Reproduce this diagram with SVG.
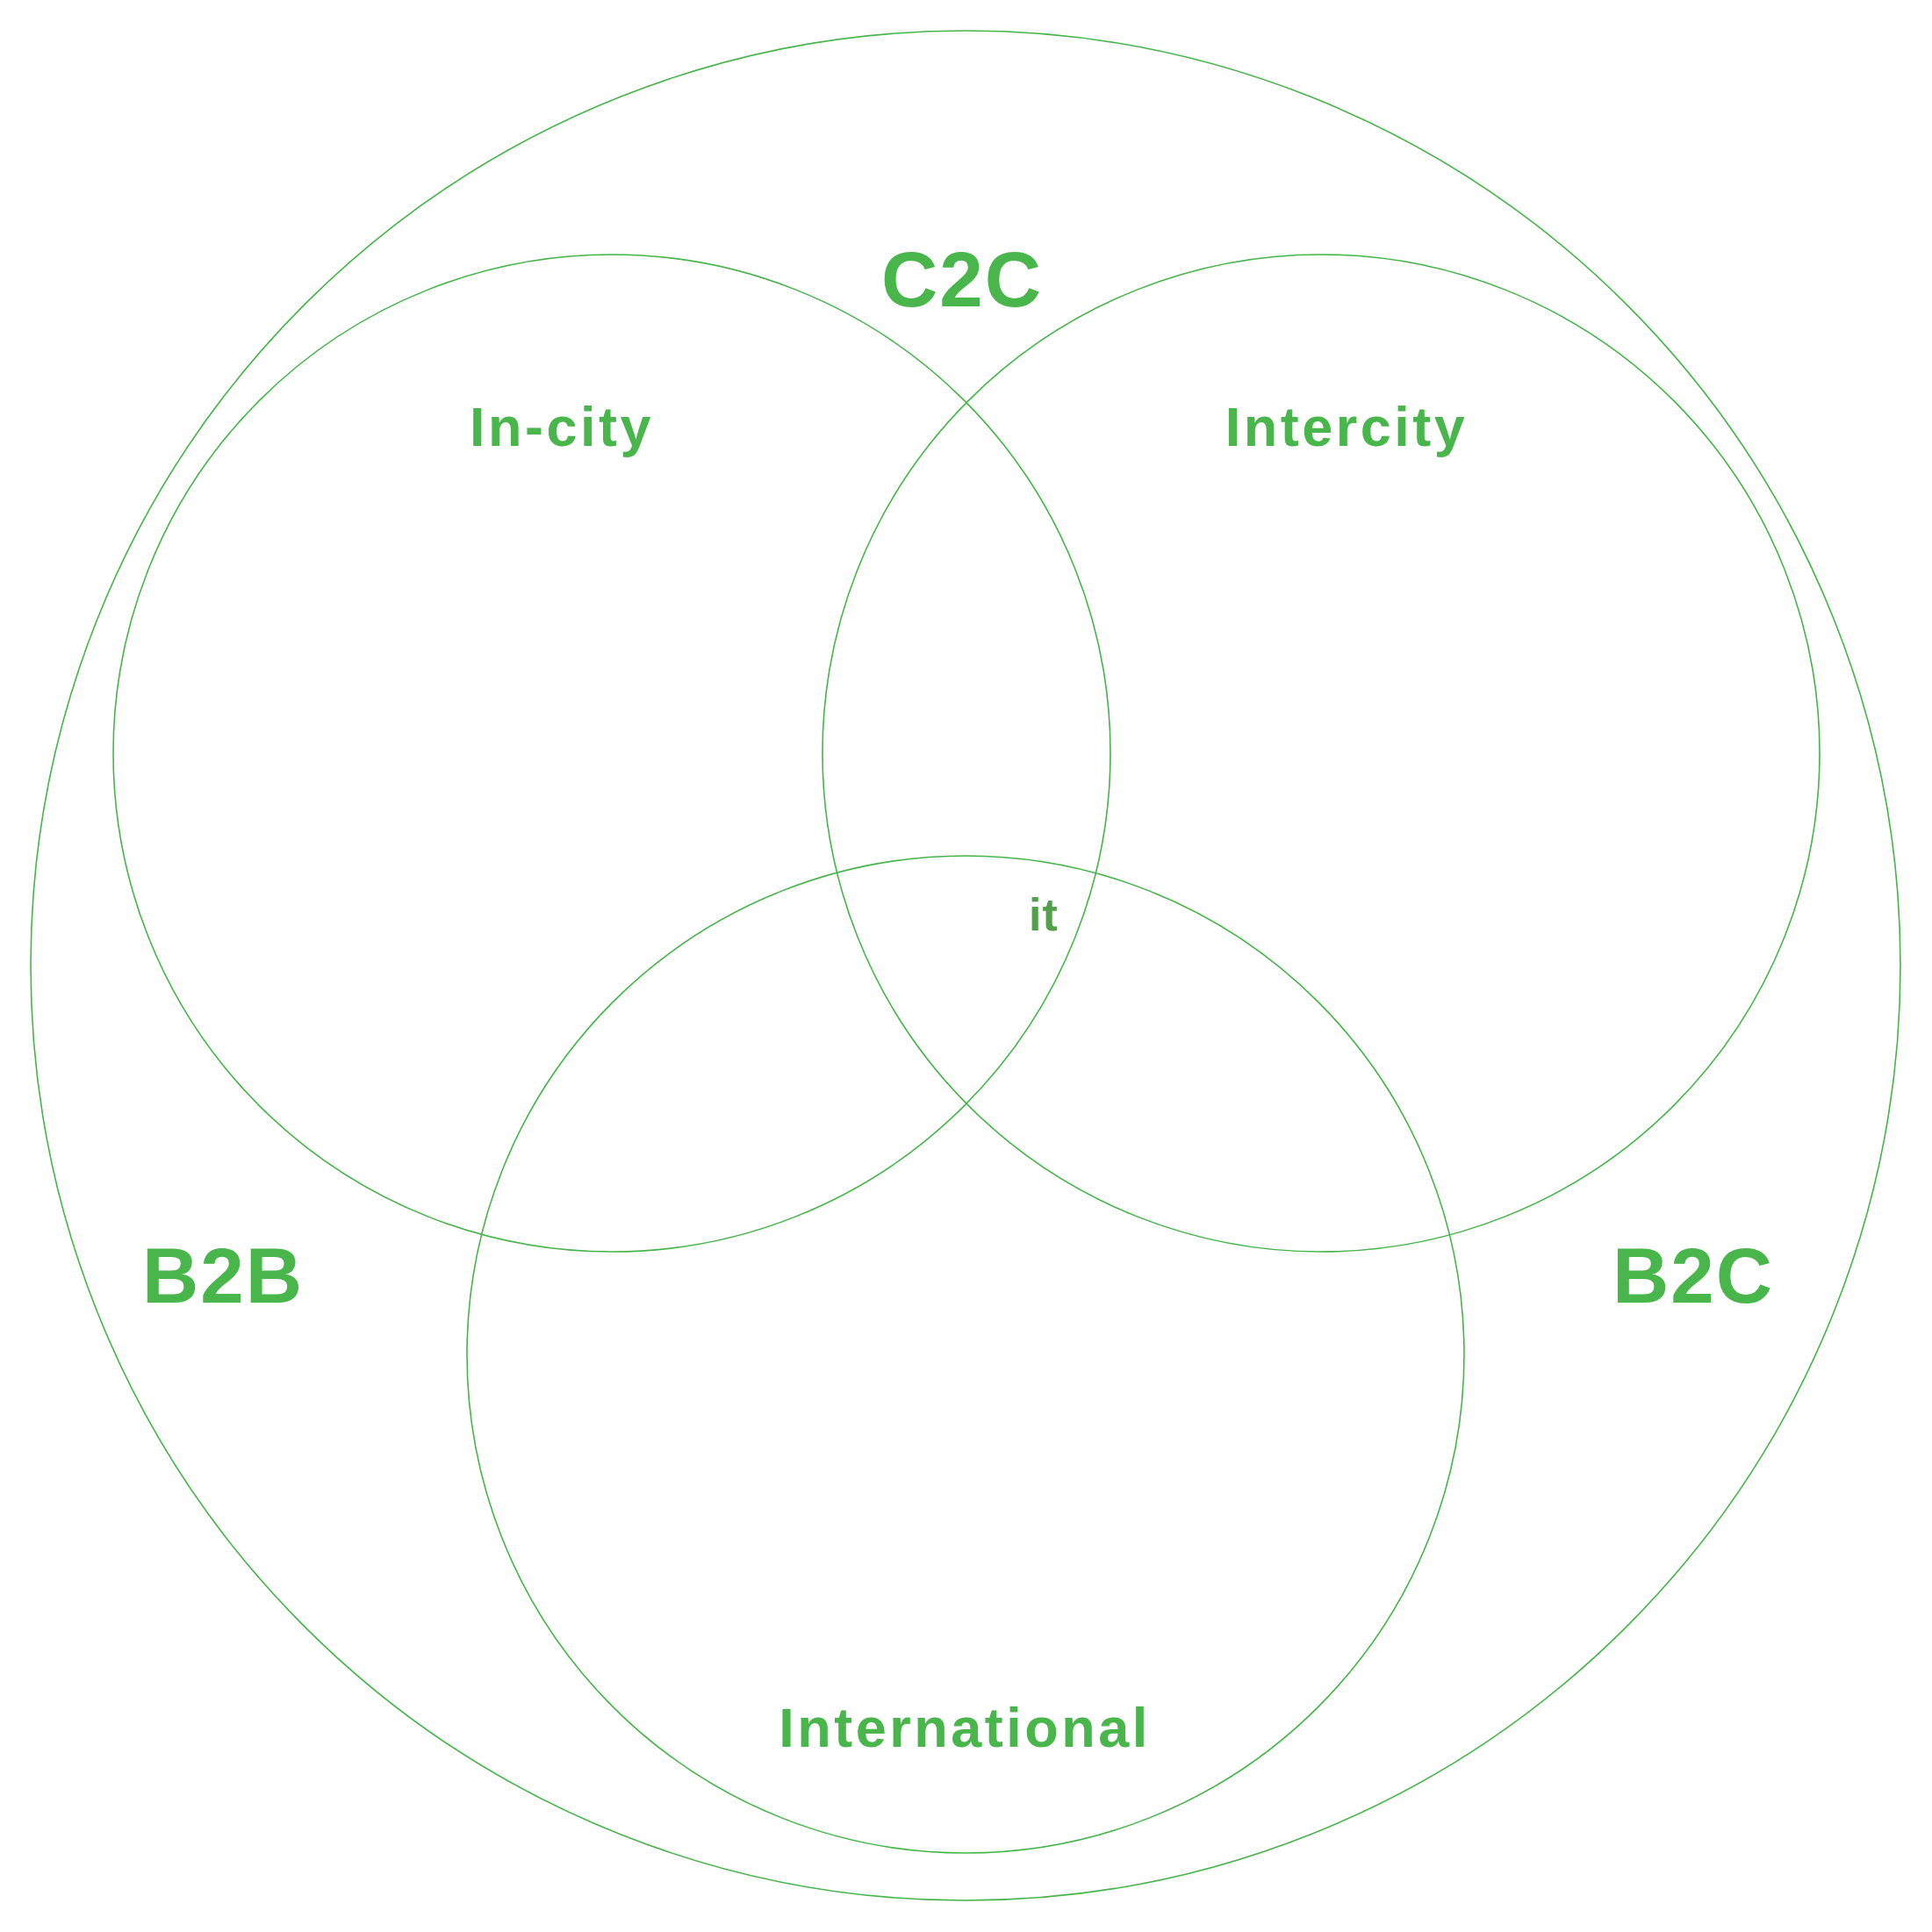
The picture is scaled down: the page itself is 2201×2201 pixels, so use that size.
<svg xmlns="http://www.w3.org/2000/svg" width="2201" height="2201" viewBox="0 0 2201 2201">
<style>
.ring{fill:none;stroke:#45b549;stroke-width:1.6}
.lbl{font-family:"Liberation Sans",Arial,sans-serif;font-weight:bold;fill:#48b64a;text-anchor:middle}
.big{font-size:89px;letter-spacing:2px}
.mid{font-size:63px;letter-spacing:3.5px}
.sm{font-size:52px;fill:#529f4c;letter-spacing:1px}
</style>
<rect width="2201" height="2201" fill="#ffffff"/>
<g id="outer"><circle class="ring" cx="1100" cy="1100" r="1065"/><text class="lbl big" x="1096" y="349">C2C</text></g>
<g id="incity"><circle class="ring" cx="697" cy="858" r="568"/><text class="lbl mid" x="640" y="508">In-city</text></g>
<g id="intercity"><circle class="ring" cx="1505" cy="858" r="568"/><text class="lbl mid" x="1534" y="508">Intercity</text></g>
<g id="international"><circle class="ring" cx="1100" cy="1543" r="568"/><text class="lbl mid" x="1099" y="1990">International</text></g>
<g id="b2b"><text class="lbl big" x="254" y="1484">B2B</text></g>
<g id="b2c"><text class="lbl big" x="1929" y="1484">B2C</text></g>
<g id="center"><text class="lbl sm" x="1189" y="1060">it</text></g>
<g id="connectors"></g>
</svg>
